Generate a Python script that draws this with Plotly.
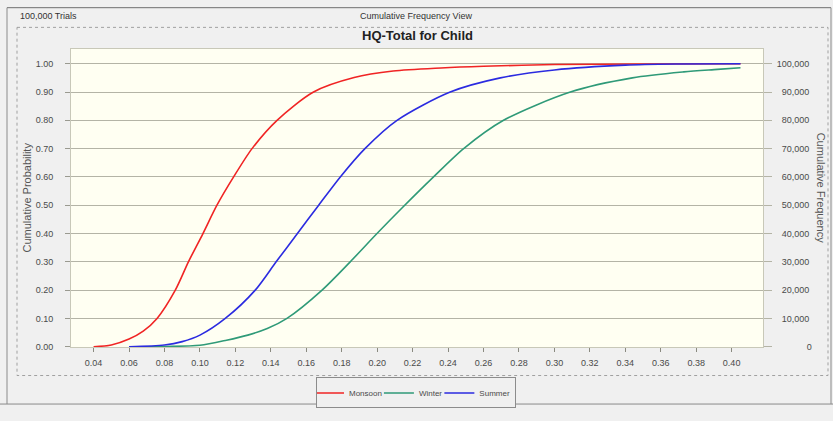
import plotly.graph_objects as go

# HQ values (x) and cumulative probabilities for each season
monsoon_x = [0.040, 0.050, 0.060, 0.068, 0.0758, 0.0861, 0.0935, 0.1017, 0.1096, 0.119,
             0.1294, 0.1435, 0.1641, 0.187, 0.209, 0.236, 0.260, 0.300, 0.350, 0.405]
monsoon_p = [0.000, 0.006, 0.027, 0.055, 0.10, 0.20, 0.30, 0.40, 0.50, 0.60,
             0.70, 0.80, 0.90, 0.951, 0.974, 0.985, 0.991, 0.997, 0.999, 1.000]

winter_x = [0.060, 0.080, 0.100, 0.115, 0.127, 0.138, 0.1491, 0.1689, 0.1848, 0.1999,
            0.214, 0.2318, 0.2488, 0.2713, 0.309, 0.344, 0.373, 0.392, 0.405]
winter_p = [0.000, 0.001, 0.005, 0.023, 0.041, 0.064, 0.10, 0.20, 0.30, 0.40,
            0.49, 0.60, 0.70, 0.80, 0.90, 0.95, 0.971, 0.980, 0.986]

summer_x = [0.060, 0.080, 0.090, 0.100, 0.1143, 0.1312, 0.143, 0.155, 0.167, 0.1792,
            0.1931, 0.2112, 0.2412, 0.2695, 0.300, 0.340, 0.370, 0.405]
summer_p = [0.000, 0.006, 0.018, 0.041, 0.10, 0.20, 0.30, 0.40, 0.50, 0.60,
            0.70, 0.80, 0.90, 0.95, 0.978, 0.995, 0.999, 1.000]

x_ticks = [0.04, 0.06, 0.08, 0.10, 0.12, 0.14, 0.16, 0.18, 0.20, 0.22,
           0.24, 0.26, 0.28, 0.30, 0.32, 0.34, 0.36, 0.38, 0.40]
prob_ticks = [0.0, 0.1, 0.2, 0.3, 0.4, 0.5, 0.6, 0.7, 0.8, 0.9, 1.0]
freq_ticks = [0, 10000, 20000, 30000, 40000, 50000, 60000, 70000, 80000, 90000, 100000]
trials = 100000

W, H = 833, 421
ML, MR, MT, MB = 71, 70, 49, 69
PW, PH = W - ML - MR, H - MT - MB


def fx(px):
    return (px - ML) / PW


def fy(py):
    return (H - MB - py) / PH


FONT = "Liberation Sans"
TXT = "#4a4a4a"
GRID = "#b4b4a6"

fig = go.Figure()
series = [
    ("Monsoon", monsoon_x, monsoon_p, "#f02424"),
    ("Winter", winter_x, winter_p, "#2f9a78"),
    ("Summer", summer_x, summer_p, "#2b2be0"),
]
for name, xs, ps, col in series:
    fig.add_trace(go.Scatter(x=xs, y=ps, name=name, mode="lines",
                             line=dict(color=col, width=1.6, shape="spline", smoothing=0.8)))

# frequency scale on the right: same curve expressed as trial counts
fig.add_trace(go.Scatter(x=monsoon_x, y=[p * trials for p in monsoon_p], yaxis="y2",
                         mode="lines", line=dict(width=0, color="rgba(0,0,0,0)"),
                         showlegend=False, hoverinfo="skip"))

y_lo, y_hi = -0.001, 1.052


def pad_freq(v):
    s = f"{v:,}"
    n = 7 - len(s)
    return "\u2007" * n + s


fig.update_layout(
    width=W, height=H,
    margin=dict(l=ML, r=MR, t=MT, b=MB, pad=0),
    paper_bgcolor="#f0f0f0",
    plot_bgcolor="#fffff2",
    font=dict(family=FONT, size=9, color=TXT),
    xaxis=dict(range=[0.02725, 0.4177], tickvals=x_ticks, tickformat=".2f",
               showgrid=False, zeroline=False, ticks="outside", ticklen=4,
               tickcolor="#8a8a80", showline=True, linecolor="#c8c8b8", mirror=True,
               tickfont=dict(size=9, color=TXT), ticklabelstandoff=3),
    yaxis=dict(range=[y_lo, y_hi], tickvals=prob_ticks, tickformat=".2f",
               showgrid=True, gridcolor=GRID, gridwidth=1, zeroline=False,
               ticks="outside", ticklen=5, tickcolor="#9a9a90",
               showline=True, linecolor="#c8c8b8", mirror=True,
               tickfont=dict(size=9, color=TXT), ticklabelstandoff=10),
    yaxis2=dict(range=[y_lo * trials, y_hi * trials], overlaying="y", side="right",
                tickvals=freq_ticks, ticktext=[pad_freq(v) for v in freq_ticks],
                showgrid=False, zeroline=False, ticks="outside", ticklen=8,
                tickcolor=GRID, tickfont=dict(size=9, color=TXT), ticklabelstandoff=3),
    showlegend=True,
    legend=dict(orientation="h", x=fx(416), xanchor="center", y=fy(383), yanchor="top",
                bgcolor="#f0f0f0", bordercolor="#8c8c8c", borderwidth=1,
                font=dict(size=8, color=TXT), itemwidth=30, tracegroupgap=0,
                traceorder="normal", indentation=-8),
)

# window frame and dotted panel border
shapes = [
    dict(type="line", x0=fx(7), x1=fx(831), y0=fy(7), y1=fy(7),
         line=dict(color="#6e6e6e", width=1)),
    dict(type="line", x0=fx(7), x1=fx(7), y0=fy(7), y1=fy(410),
         line=dict(color="#8a8a8a", width=1)),
    dict(type="line", x0=fx(831), x1=fx(831), y0=fy(7), y1=fy(410),
         line=dict(color="#8a8a8a", width=1)),
    dict(type="line", x0=fx(0), x1=fx(833), y0=fy(410), y1=fy(410),
         line=dict(color="#8a8a8a", width=1)),
    dict(type="rect", x0=fx(17), x1=fx(828), y0=fy(27), y1=fy(381),
         line=dict(color="#a0a0a0", width=1, dash="dot")),
]
for s in shapes:
    s.update(xref="paper", yref="paper", layer="below")
fig.update_layout(shapes=shapes)

annotations = [
    dict(text="100,000 Trials", x=fx(18), y=fy(15), xanchor="left", yanchor="middle",
         font=dict(size=9, color="#333333")),
    dict(text="Cumulative Frequency View", x=fx(416), y=fy(15), xanchor="center",
         yanchor="middle", font=dict(size=9, color="#333333")),
    dict(text="<b>HQ-Total for Child</b>", x=fx(418), y=fy(35), xanchor="center",
         yanchor="middle", font=dict(size=13, color="#222222")),
    dict(text="Cumulative Probability", x=fx(27), y=fy(200), textangle=-90,
         xanchor="center", yanchor="middle", font=dict(size=11, color="#555555")),
    dict(text="Cumulative Frequency", x=fx(821), y=fy(190), textangle=90,
         xanchor="center", yanchor="middle", font=dict(size=11, color="#555555")),
]
for a in annotations:
    a.update(xref="paper", yref="paper", showarrow=False)
fig.update_layout(annotations=annotations)

fig.write_html("out.html")
